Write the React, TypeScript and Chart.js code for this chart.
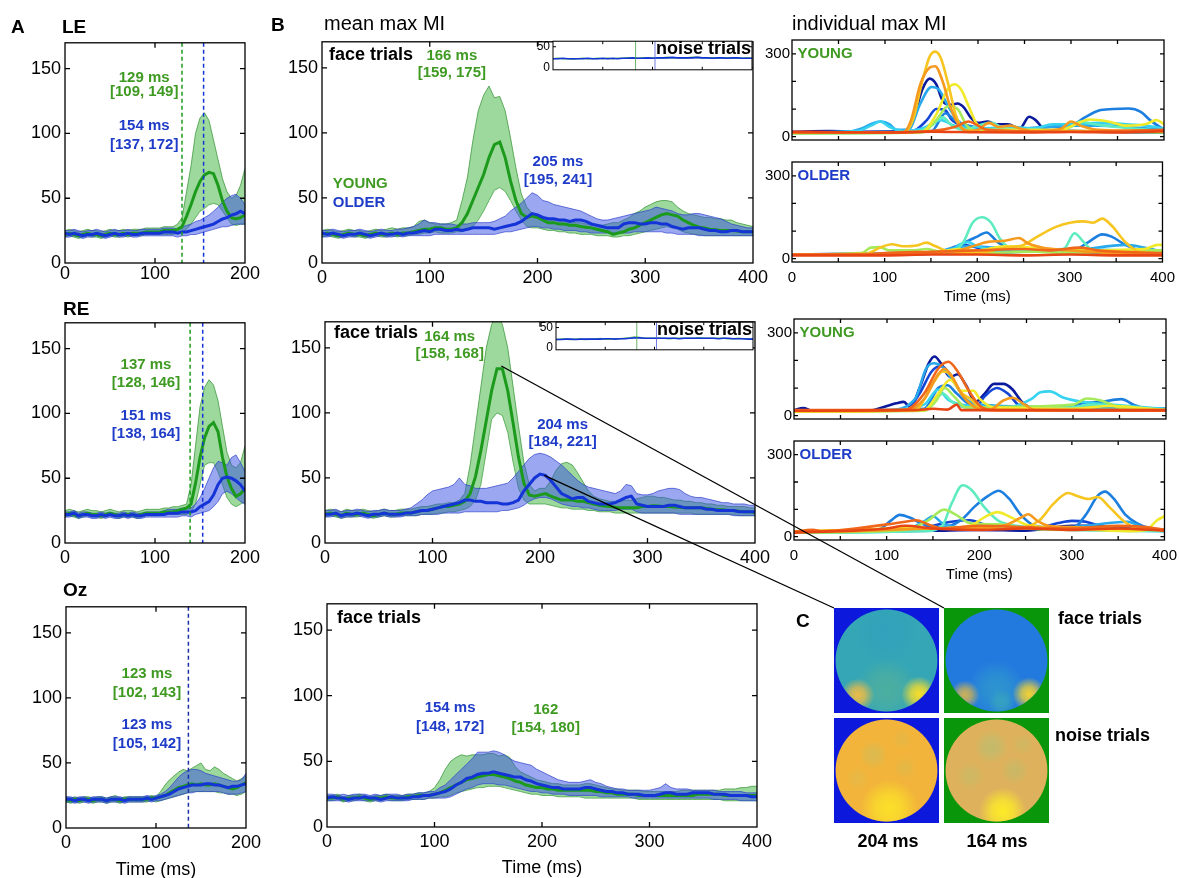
import React, { useEffect, useRef } from "react";
import { Chart, registerables } from "chart.js";

Chart.register(...registerables);

const FONT = "'Liberation Sans', Arial, Helvetica, sans-serif";
Chart.defaults.font.family = FONT;
Chart.defaults.color = "#000";

// ---------- time axes ----------
const T200 = Array.from({ length: 41 }, (_, i) => i * 5);
const T400 = Array.from({ length: 81 }, (_, i) => i * 5);
const T400N = Array.from({ length: 41 }, (_, i) => i * 10);

// ---------- Panel A: LE ----------
const LE_G_MEAN = [22,23,22,21,22,23,22,22,21,22,23,22,22,23,22,23, 23,23,24,24,24,24,25,25,25, 26,28,36,45,55,63,68,70,69,60,48,40,35,34,35,37];
const LE_G_UP = [25,26,25,24,25,26,25,25,24,25,26,25,25,26,25,26, 26,26,27,27,27,27,28,28,28, 30,35,55,75,100,112,116,110,95,80,65,55,50,52,60,73];
const LE_G_LO = [20,21,20,19,20,21,20,20,19,20,21,20,20,21,20,21, 21,21,22,22,22,22,22,22,22, 23,24,26,30,35,40,42,45,46,45,40,35,30,29,30,30];
const LE_B_MEAN = [23,22,23,22,21,22,22,23,22,21,22,23,22,22,23,22, 22,23,23,23,23,23,24,24,24, 23,24,24,25,26,27,28,29,30,32,34,35,37,38,40,38];
const LE_B_UP = [25,25,26,25,24,25,25,26,25,24,25,26,25,25,26,25, 25,26,26,26,26,26,27,27,27, 26,28,29,30,32,33,35,37,40,43,47,50,52,53,50,45];
const LE_B_LO = [20,20,21,20,19,20,20,21,20,19,20,21,20,20,21,20, 20,21,21,21,21,21,21,21,21, 20,21,21,22,22,23,24,25,26,27,28,28,29,30,30,30];

// ---------- Panel A: RE ----------
const RE_G_MEAN = [22,23,22,21,22,23,22,22,21,22,23,22,21,22,22,22, 21,22,23,23,23,23,24,24,24, 25,26,27,30,46,66,81,90,93,86,66,51,42,36,38,42];
const RE_G_UP = [25,26,25,24,25,26,25,25,24,25,26,25,24,25,25,25, 24,25,26,26,26,26,27,27,28, 28,29,30,45,75,105,120,126,122,110,90,70,60,58,62,75];
const RE_G_LO = [20,21,20,19,20,21,20,20,19,20,21,20,19,20,20,20, 19,20,21,21,21,21,22,22,22, 22,22,22,24,30,45,60,62,62,55,45,35,30,28,30,32];
const RE_B_MEAN = [22,22,23,21,22,22,21,21,22,21,22,21,21,22,21,22, 21,21,22,22,22,22,22,23,23, 23,24,24,24,25,28,30,32,37,45,50,51,50,48,45,40];
const RE_B_UP = [24,24,25,23,24,24,23,23,24,23,24,23,23,24,23,24, 23,23,24,24,24,24,25,26,26, 26,27,27,27,30,35,42,50,58,63,62,60,66,68,62,55];
const RE_B_LO = [20,20,21,19,20,20,19,19,20,19,20,19,19,20,19,20, 19,19,20,20,20,20,20,20,20, 20,21,21,20,22,23,24,25,28,32,38,40,38,35,32,30];

// ---------- Panel A: Oz ----------
const OZ_G_MEAN = [22,21,22,21,22,22,21,22,22,21,22,22,21,22,22,22, 22,22,22,23,23,24,25,27,29, 31,32,33,34,33,34,33,33,34,33,32,31,30,31,33,35];
const OZ_G_UP = [24,23,24,23,24,24,23,24,24,23,24,25,23,24,24,24, 24,24,24,25,24,28,33,37,40, 43,45,44,46,48,50,45,44,47,45,42,40,38,36,38,40];
const OZ_G_LO = [20,19,20,19,20,20,19,20,20,19,20,20,19,20,20,20, 20,20,20,21,20,21,22,23,24, 25,26,27,28,28,28,28,28,28,27,27,26,26,25,26,28];
const OZ_B_MEAN = [22,22,21,22,22,21,22,22,22,21,22,22,22,21,22,22, 22,22,23,22,23,24,25,26,28, 30,31,32,33,33,33,34,34,33,33,32,31,32,32,33,34];
const OZ_B_UP = [24,24,23,24,24,23,24,24,24,23,24,24,24,23,24,24, 24,24,25,24,25,26,28,31,35, 39,42,44,45,45,44,42,41,40,39,38,37,36,36,37,42];
const OZ_B_LO = [20,20,19,20,20,19,20,20,20,19,20,20,20,19,20,20, 20,20,21,20,21,21,22,23,24, 25,26,27,27,28,28,28,28,28,28,27,26,26,26,27,28];

// ---------- Panel B: top (LE) ----------
const B1_G_MEAN = [22,23,22,21,22,23,22,22,21,22,23,22,22,23,22,23, 23,24,25,26,26,27,27,26,26,27, 31,38,48,58,68,81,91,93,81,63,48,38,35,36,35, 33,31,31,30,30,29,29,28,27.5,27,26,25,24,22,23, 24,26,27,29,31,33,35,37,38,37,36,33,31,29,27.5, 27,26,25.5,25,25,25,24.5,24,24,24];
const B1_G_UP = [25,26,25,24,25,26,25,25,24,25,26,25,26,27,26,27, 27,28,32,33,31,30,30,30,31,33, 48,66,94,117,129,136,127,128,117,96,73,53,43,38,36, 35,33,33,33,33,32,31,31,30,30,29,29,30,31,31, 33,35,38,40,43,45,47,48,48,47,43,40,38,37,36, 35,35,34,34,33,33,31,30,29,28];
const B1_G_LO = [20,21,20,19,20,21,20,20,19,20,21,20,20,21,20,21, 21,22,22,23,23,24,23,23,23,24, 24,26,28,33,40,48,56,58,55,48,40,33,28,27,27, 26,25,25,24,24,23,23,22,22,22,21,21,21,20,20, 21,21,22,23,24,25,26,27,28,27,26,24,23,22,22, 21,21,21,21,21,21,21,21,21,21];
const B1_B_MEAN = [23,22,23,22,21,22,22,23,22,21,22,23,22,22,23,22, 23,23,24,25,24,26,26,25,25,26, 25,26,27,27,27,27,26,27,28,29,30,32,35,38,37, 35,34,34,33,33,32,33,33,32,30,29,28,27,27,27, 30,31,31,30,30,31,31,30,30,28,27,26,27,27,27, 26,25,25,24,24,25,25,24,24,24];
const B1_B_UP = [25,25,26,25,24,25,25,26,25,24,25,26,25,25,26,26, 27,28,30,33,31,31,30,30,30,29, 30,30,31,31,31,31,32,34,36,40,43,46,50,54,52, 48,47,45,44,43,42,41,40,38,36,34,33,33,34,35, 36,37,38,39,40,41,43,42,41,40,38,37,37,38,38, 37,36,35,34,32,30,29,28,27,27];
const B1_B_LO = [20,20,21,20,19,20,20,21,20,19,20,21,20,20,21,20, 21,21,21,21,21,22,22,22,22,22, 22,22,22,22,22,22,22,23,24,24,25,26,27,28,28, 27,27,26,26,25,25,25,24,24,23,23,23,23,23,23, 23,23,24,24,24,24,24,24,23,23,22,22,22,22,21, 21,21,21,21,21,21,21,21,21,21];

// ---------- Panel B: middle (RE) ----------
const B2_G_MEAN = [22,23,22,21,23,22,22,23,22,21,22,23,22,22,23,23, 23,24,25,25,26,27,28,28,29,30, 32,38,51,71,94,117,134,134,117,92,66,46,37,36,37, 38,36,34.5,33,33,33,32,32,31,30,29,28.5,28,27.5,27, 27,27,27,28,28,28.6,28.5,28,28,27.6,27.5,27,27,27,27, 26.5,26,25.5,25.5,25,25,24.5,24,24,23.5];
const B2_G_UP = [25,26,25,24,26,25,25,26,25,24,25,26,25,25,26,26, 26,27,28,28,29,30,30,31,31,33, 38,60,90,120,150,168,176,168,150,120,90,62,45,40,42, 42,48,56,61,62,60,54,47,40,36,34,33,32,32,32, 33,33,34,35,36,36,35,35,34,33,33,32,32,31,31, 30,30,29,29,28,28,28,28,27,27];
const B2_G_LO = [20,21,20,19,20,20,20,21,20,19,20,21,20,20,21,21, 21,21,22,22,22,23,23,24,24,25, 26,28,33,45,70,95,100,98,85,62,42,33,30,30,30, 30,29,28,27,27,26,26,26,25,25,24,24,24,23,23, 23,23,23,23,23,23,23,23,23,23,23,23,23,22,22, 22,22,22,22,22,22,21,21,21,21];
const B2_B_MEAN = [22,22,23,21,22,22,23,22,21,22,22,23,22,22,22,23, 23,24,25,25,26,27,28,29,30,31, 33,33,32,32,31,31,31,30,30,31,33,40,45,50,53, 52,48,43,38,36,34,35,35,32,31,30,30,30,31,33, 35,36,30,29,28,28,28,28,29,29,28,27,27,27,27, 26,26,25,25,25,25,24,24,24,24];
const B2_B_UP = [25,25,26,24,25,25,26,25,24,25,25,26,25,25,25,26, 27,30,33,37,40,41,42,43,45,50, 45,44,42,42,42,43,44,45,46,50,55,60,65,68,69, 68,66,63,60,56,52,48,45,43,42,41,40,39,38,40, 45,44,38,37,37,38,40,41,42,42,41,38,36,35,35, 34,33,32,31,31,30,30,30,29,29];
const B2_B_LO = [20,20,21,19,20,20,21,20,19,20,20,21,20,20,20,21, 21,21,22,22,22,22,23,23,23,23, 24,24,24,24,24,24,24,25,25,26,27,29,32,34,35, 35,34,32,30,29,28,28,27,27,26,25,25,25,25,26, 26,26,24,23,23,23,23,23,23,23,22,22,22,22,22, 22,22,22,22,22,21,21,21,21,21];

// ---------- Panel B: bottom (Oz) ----------
const B3_G_MEAN = [22,22,23,21,22,22,23,22,21,22,22,23,22,22,22,23, 23,24,24,24,25,26,28,30,32,34, 36,37,38,39,40,40,39,38,37,35,34,32,31,30,30, 29,29,28,28,28,28,28,28,28,27,27,26,26,25,25, 25,25,24,24,24,24,24,24,24,24,24,24,24,25,25, 25,25,25,24,24,24,24,24,24,24];
const B3_G_UP = [24,24,25,23,24,24,25,24,23,24,24,25,24,24,24,25, 25,26,26,27,30,36,44,50,53,55, 54,55,55,55,56,56,54,55,53,46,42,40,38,36,35, 34,33,33,32,32,32,32,33,33,32,31,30,29,29,28, 28,28,28,27,27,27,27,27,27,27,28,28,28,28,28, 28,28,28,29,29,29,30,30,31,31];
const B3_G_LO = [20,20,21,19,20,20,21,20,19,20,20,21,20,20,20,21, 21,21,21,22,22,23,23,24,26,27, 28,29,30,30,31,31,31,30,29,28,27,26,25,25,24, 24,24,23,23,23,23,23,22,22,22,22,22,22,22,22, 22,22,21,21,21,21,21,21,21,21,21,21,21,21,21, 21,21,21,20,20,20,20,20,20,20];
const B3_B_MEAN = [22,23,22,22,21,22,22,23,22,22,21,22,23,22,22,22, 23,23,24,24,25,26,27,29,32,34, 37,38,40,41,41,42,41,40,39,38,38,36,35,33,32, 31,30,30,29,29,29,29,30,30,29,28,27,27,26,26, 25,25,25,24,24,24,25,26,26,25,25,25,26,26,26, 26,25,25,25,24,24,24,24,23,23];
const B3_B_UP = [25,25,24,25,24,25,25,25,24,25,24,25,25,25,24,25, 25,26,26,27,27,30,32,36,40,44, 48,52,57,57,57,58,57,55,52,50,49,48,47,44,42, 40,38,36,35,34,34,34,35,36,34,33,31,30,29,29, 28,28,28,28,28,29,30,33,30,29,29,29,28,28,28, 28,28,27,27,27,27,27,26,26,26];
const B3_B_LO = [20,20,20,20,19,20,20,20,20,20,19,20,20,20,20,20, 21,21,21,22,22,22,22,23,25,27, 29,30,32,33,33,33,32,32,31,30,29,28,27,27,26, 26,25,25,25,24,24,24,24,24,24,23,23,23,23,23, 23,22,22,22,22,22,22,22,22,22,22,22,22,22,22, 22,21,21,21,21,21,20,20,20,20];

// ---------- noise-trial insets (10 ms steps) ----------
const N1_G = [22,23,22,22,21,22,23,22,22,23,22,23,22,23,23,24,24,23,24,24,24,23,24,25,24,24,23,24,25,25,24,24,24,23,24,24,23,24,23,24,23];
const N1_B = [22,22,23,22,22,22,22,23,22,22,23,22,23,22,23,23,24,23,23,24,23,24,24,24,25,24,24,24,24,25,24,24,23,24,24,23,24,24,23,23,23];
const N2_G = [21,22,22,21,22,22,21,22,22,23,22,22,23,23,24,25,27,26,24,24,24,24,24,23,24,24,24,24,24,25,24,24,24,24,24,23,23,24,23,23,22];
const N2_B = [21,21,22,22,21,22,22,22,22,22,23,23,22,23,23,24,25,25,24,24,24,24,24,24,24,23,24,24,24,24,24,24,24,23,24,24,23,23,23,22,22];

// ---------- individual max MI (knots [ms, MI]), one line per subject ----------
const JET = ["#0b1a9c", "#1547d6", "#1c7fe0", "#27a9ec", "#36d2f0", "#5eebc0", "#a6ea5c", "#f1ea2a", "#f7c520", "#f59a1e", "#f0661a", "#e84414"];

const YOUNG_LE = [
  [[0,18],[40,20],[80,18],[120,20],[130,60],[140,170],[148,210],[155,190],[162,130],[170,115],[178,120],[185,105],[192,70],[200,50],[210,55],[220,45],[232,45],[245,30],[255,72],[262,60],[272,25],[300,20],[350,18],[400,15]],
  [[0,15],[100,15],[130,20],[145,60],[155,100],[165,95],[172,60],[185,40],[200,30],[230,25],[300,20],[400,15]],
  [[0,15],[150,20],[165,85],[175,60],[190,40],[210,30],[250,30],[280,35],[300,40],[315,70],[330,95],[345,100],[362,102],[375,90],[385,60],[400,25]],
  [[0,15],[60,18],[75,30],[88,50],[96,55],[105,45],[112,25],[125,25],[138,120],[150,180],[158,170],[168,110],[178,60],[190,35],[210,30],[250,30],[300,40],[330,40],[360,35],[400,25]],
  [[0,15],[70,20],[85,40],[95,55],[105,35],[120,20],[140,30],[160,60],[175,40],[200,30],[240,35],[260,30],[280,45],[300,45],[330,50],[360,45],[380,40],[400,30]],
  [[0,12],[130,15],[150,40],[162,70],[172,40],[185,25],[205,45],[215,50],[225,35],[260,20],[300,35],[310,55],[325,45],[350,35],[400,20]],
  [[0,12],[140,15],[155,60],[168,110],[178,100],[188,40],[200,20],[300,20],[400,15]],
  [[0,14],[140,18],[155,80],[168,175],[175,190],[182,170],[190,110],[198,50],[210,25],[290,25],[305,45],[320,62],[340,55],[360,40],[380,45],[392,60],[400,45]],
  [[0,15],[120,16],[130,60],[140,200],[148,290],[154,308],[160,285],[168,190],[176,80],[185,25],[200,18],[300,20],[400,20]],
  [[0,15],[120,17],[128,60],[138,190],[148,250],[154,255],[162,200],[170,110],[180,40],[190,20],[200,25],[212,50],[222,35],[235,40],[245,30],[260,20],[290,30],[300,55],[310,40],[330,25],[400,20]],
  [[0,15],[100,15],[150,20],[175,35],[190,55],[200,40],[210,25],[300,18],[350,20],[400,25]],
  [[0,18],[50,16],[100,15],[150,18],[200,16],[250,15],[300,17],[350,15],[400,20]],
];
const OLDER_LE = [
  [[0,15],[100,15],[150,18],[200,20],[250,25],[270,30],[300,25],[350,20],[400,15]],
  [[0,15],[120,20],[160,25],[185,50],[200,40],[250,30],[300,25],[400,20]],
  [[0,15],[170,20],[185,55],[200,80],[210,95],[222,60],[240,30],[300,25],[320,60],[335,88],[345,80],[360,50],[380,25],[400,20]],
  [[0,15],[150,20],[175,40],[195,45],[220,40],[300,30],[360,50],[380,40],[400,25]],
  [[0,15],[120,18],[170,25],[180,50],[190,60],[200,45],[220,30],[300,35],[400,25]],
  [[0,15],[170,20],[185,60],[195,130],[205,150],[215,130],[225,70],[240,30],[280,25],[295,40],[305,92],[315,60],[325,30],[360,30],[400,25]],
  [[0,15],[75,20],[85,40],[95,42],[105,30],[130,30],[145,35],[160,25],[200,20],[260,25],[300,20],[380,30],[400,30]],
  [[0,15],[150,20],[180,35],[200,30],[230,45],[260,40],[300,30],[380,35],[395,50],[400,50]],
  [[0,15],[80,18],[95,40],[108,52],[120,45],[135,48],[145,58],[155,45],[170,25],[200,20],[230,40],[250,50],[265,80],[285,115],[300,130],[315,135],[325,130],[335,145],[345,120],[360,60],[375,25],[400,20]],
  [[0,15],[100,18],[150,20],[180,30],[200,50],[210,60],[230,65],[245,75],[255,55],[270,40],[300,30],[350,20],[400,15]],
  [[0,15],[80,15],[100,20],[150,25],[200,30],[250,35],[280,30],[310,40],[330,30],[400,20]],
  [[0,12],[100,12],[150,15],[200,15],[250,12],[300,15],[350,12],[400,12]],
];
const YOUNG_RE = [
  [[0,20],[10,28],[20,18],[80,18],[100,35],[110,45],[118,50],[125,30],[135,100],[145,190],[151,214],[158,190],[168,140],[176,150],[185,110],[195,50],[205,80],[215,115],[225,115],[235,95],[245,50],[260,25],[300,20],[400,25]],
  [[0,18],[120,20],[135,80],[148,160],[158,180],[168,150],[180,80],[195,30],[205,70],[218,100],[230,80],[245,30],[300,20],[400,18]],
  [[0,15],[140,25],[155,100],[165,110],[175,80],[190,40],[250,30],[290,30],[310,45],[330,50],[345,58],[352,60],[365,40],[380,25],[400,25]],
  [[0,15],[100,20],[130,60],[142,170],[150,190],[160,175],[172,120],[185,60],[200,40],[300,30],[400,20]],
  [[0,15],[100,20],[140,40],[155,95],[165,60],[180,40],[230,30],[255,60],[265,85],[275,88],[290,65],[310,50],[340,40],[400,25]],
  [[0,15],[140,20],[150,50],[160,80],[170,50],[185,30],[240,25],[300,30],[320,40],[400,20]],
  [[0,15],[140,18],[152,50],[162,100],[172,70],[185,30],[300,40],[315,62],[330,55],[350,30],[400,20]],
  [[0,15],[140,20],[155,80],[168,130],[180,90],[193,90],[200,60],[215,30],[300,25],[340,35],[400,20]],
  [[0,15],[130,20],[150,120],[160,160],[168,150],[178,90],[190,60],[200,30],[220,20],[400,20]],
  [[0,18],[120,20],[140,60],[155,150],[162,170],[170,140],[182,70],[195,30],[210,20],[225,55],[235,65],[248,40],[260,20],[400,20]],
  [[0,20],[120,22],[140,80],[155,170],[166,195],[176,160],[188,90],[200,35],[215,20],[400,18]],
  [[0,18],[130,20],[150,25],[165,22],[175,40],[180,20],[300,20],[400,20]],
];
const OLDER_RE = [
  [[0,18],[100,20],[150,22],[200,25],[250,22],[300,40],[320,40],[340,30],[400,25]],
  [[0,20],[120,22],[170,55],[190,60],[210,40],[260,30],[285,50],[300,58],[315,55],[330,40],[400,25]],
  [[0,18],[90,25],[105,60],[114,80],[125,70],[140,45],[160,35],[180,60],[195,110],[210,150],[221,168],[232,140],[245,80],[260,40],[300,30],[315,80],[328,150],[336,165],[345,140],[358,80],[370,50],[385,30],[400,25]],
  [[0,15],[120,25],[140,55],[150,75],[160,50],[175,35],[200,30],[300,35],[360,55],[380,30],[400,20]],
  [[0,15],[120,20],[150,30],[200,35],[250,30],[300,25],[400,20]],
  [[0,15],[140,20],[160,40],[170,120],[182,188],[192,170],[205,110],[220,60],[240,40],[300,30],[400,20]],
  [[0,15],[120,25],[145,60],[162,99],[175,80],[190,50],[220,45],[250,30],[300,25],[400,25]],
  [[0,18],[100,30],[120,35],[150,30],[190,40],[205,70],[220,90],[232,75],[250,45],[300,30],[360,20],[380,25],[392,60],[400,75]],
  [[0,20],[100,28],[150,30],[200,30],[240,30],[265,60],[280,120],[296,160],[305,150],[318,138],[328,145],[340,110],[355,60],[370,30],[400,25]],
  [[0,18],[60,20],[100,25],[150,30],[200,35],[230,45],[245,70],[253,82],[262,60],[275,40],[300,35],[340,30],[400,25]],
  [[0,18],[20,25],[30,20],[100,45],[120,55],[132,60],[145,45],[160,30],[200,40],[250,35],[300,30],[350,40],[380,35],[400,25]],
  [[0,15],[100,30],[120,40],[150,30],[200,25],[250,30],[300,25],[350,30],[400,22]],
];

// ---------- peak latencies (ms) ----------
const LE_VLINES = [130, 154];
const RE_VLINES = [139, 153];
const OZ_VLINES = [136];
const B1_PEAKS = [166, 205];
const B2_PEAKS = [164, 204];
const LINK_G = [164, 136];
const LINK_B = [204, 52];

// ---------- topographies (C): blobs [x, y, radius, r, g, b, alpha] ----------
const TOPO_204_FACE = { bg: "#0c18dc", base: "rgb(52,166,182)", blobs: [[0,0.55,0.6,45,158,192,0.5],[0,-0.55,0.6,88,178,150,0.7],[-0.55,-0.66,0.32,238,188,70,1],[0.62,-0.64,0.34,250,222,40,1]] };
const TOPO_164_FACE = { bg: "#0a960a", base: "rgb(35,122,222)", blobs: [[0,-0.55,0.55,50,160,200,0.7],[0.1,-0.8,0.25,60,175,180,0.6],[-0.6,-0.66,0.28,215,180,80,0.95],[0.62,-0.64,0.32,245,210,50,1]] };
const TOPO_204_NOISE = { bg: "#0c18dc", base: "rgb(242,180,58)", blobs: [[0.05,-0.72,0.55,252,228,40,0.9],[-0.25,0.3,0.28,215,188,85,0.8],[0.35,0.05,0.22,222,185,75,0.7],[-0.55,-0.15,0.22,225,188,78,0.6],[0.3,0.6,0.2,225,185,75,0.6]] };
const TOPO_164_NOISE = { bg: "#0a960a", base: "rgb(222,178,92)", blobs: [[0.12,-0.78,0.45,252,235,40,1],[-0.1,0.45,0.32,188,188,110,0.8],[0.35,0,0.26,192,186,105,0.7],[-0.5,-0.1,0.26,198,186,100,0.7],[0.5,0.5,0.2,200,185,100,0.6]] };

// ---------- styles ----------
const G_LINE = "#1c9a1c";
const B_LINE = "#1434d8";
const G_FILL = "rgba(60,180,60,0.5)";
const B_FILL = "rgba(55,80,225,0.5)";
const G_EDGE = "rgba(40,140,40,0.85)";
const B_EDGE = "rgba(40,60,200,0.85)";
const G_TXT = "#3f9a22";
const B_TXT = "#1e3cc8";

type Box = { l: number; t: number; r: number; b: number; ml: number; mt: number; mr: number; mb: number };
const rect = (bx: Box) => ({ left: bx.l - bx.ml, top: bx.t - bx.mt, width: bx.r - bx.l + bx.ml + bx.mr, height: bx.b - bx.t + bx.mt + bx.mb });

// ---------- plugins ----------
function boxP(tick: number, lw: number) {
  return {
    id: "mbox",
    afterDatasetsDraw(chart: any) {
      const { ctx, chartArea: a, scales } = chart;
      ctx.save();
      ctx.strokeStyle = "#000";
      ctx.lineWidth = lw;
      ctx.beginPath();
      for (const t of scales.x.ticks) {
        const p = scales.x.getPixelForValue(t.value);
        if (p < a.left + 2 || p > a.right - 2) continue;
        ctx.moveTo(p, a.bottom); ctx.lineTo(p, a.bottom - tick);
        ctx.moveTo(p, a.top); ctx.lineTo(p, a.top + tick);
      }
      for (const t of scales.y.ticks) {
        const p = scales.y.getPixelForValue(t.value);
        if (p < a.top + 2 || p > a.bottom - 2) continue;
        ctx.moveTo(a.left, p); ctx.lineTo(a.left + tick, p);
        ctx.moveTo(a.right, p); ctx.lineTo(a.right - tick, p);
      }
      ctx.stroke();
      ctx.strokeRect(a.left, a.top, a.right - a.left, a.bottom - a.top);
      ctx.restore();
    },
  };
}
function annP(items: any[]) {
  return {
    id: "ann",
    afterDraw(chart: any) {
      const { ctx, scales } = chart;
      for (const it of items) {
        ctx.save();
        ctx.font = `bold ${it.size}px ${FONT}`;
        ctx.fillStyle = it.color;
        ctx.textAlign = it.align || "center";
        ctx.textBaseline = "middle";
        ctx.fillText(it.text, scales.x.getPixelForValue(it.x), scales.y.getPixelForValue(it.y));
        ctx.restore();
      }
    },
  };
}
function vlP(lines: { x: number; color: string; dash: number[]; w: number }[]) {
  return {
    id: "vl",
    afterDatasetsDraw(chart: any) {
      const { ctx, chartArea: a, scales } = chart;
      for (const l of lines) {
        const p = scales.x.getPixelForValue(l.x);
        ctx.save();
        ctx.strokeStyle = l.color; ctx.lineWidth = l.w; ctx.setLineDash(l.dash);
        ctx.beginPath(); ctx.moveTo(p, a.top); ctx.lineTo(p, a.bottom); ctx.stroke();
        ctx.restore();
      }
    },
  };
}
const whiteP = {
  id: "white",
  beforeDatasetsDraw(chart: any) {
    const { ctx, chartArea: a } = chart;
    ctx.save(); ctx.fillStyle = "#fff"; ctx.fillRect(a.left, a.top, a.right - a.left, a.bottom - a.top); ctx.restore();
  },
};
function topoP(spec: any) {
  return {
    id: "topo",
    beforeDatasetsDraw(chart: any) {
      const { ctx, chartArea: a, scales: { x, y } } = chart;
      ctx.save();
      ctx.fillStyle = spec.bg;
      ctx.fillRect(a.left, a.top, a.right - a.left, a.bottom - a.top);
      const cx = x.getPixelForValue(0), cy = y.getPixelForValue(0);
      const R = x.getPixelForValue(0.97) - cx;
      ctx.beginPath(); ctx.arc(cx, cy, R, 0, Math.PI * 2); ctx.clip();
      ctx.fillStyle = spec.base; ctx.fillRect(a.left, a.top, a.right - a.left, a.bottom - a.top);
      for (const b of spec.blobs) {
        const px = x.getPixelForValue(b[0]), py = y.getPixelForValue(b[1]);
        const r = x.getPixelForValue(b[2]) - cx;
        const g = ctx.createRadialGradient(px, py, 0, px, py, r);
        g.addColorStop(0, `rgba(${b[3]},${b[4]},${b[5]},${b[6]})`);
        g.addColorStop(0.45, `rgba(${b[3]},${b[4]},${b[5]},${b[6] * 0.75})`);
        g.addColorStop(1, `rgba(${b[3]},${b[4]},${b[5]},0)`);
        ctx.fillStyle = g; ctx.fillRect(a.left, a.top, a.right - a.left, a.bottom - a.top);
      }
      ctx.restore();
    },
  };
}

// ---------- dataset builders ----------
const pts = (t: number[], v: number[]) => v.map((y, i) => ({ x: t[i], y }));
function bandSets(t: number[], gm: number[], gu: number[], gl: number[], bm: number[], bu: number[], bl: number[]) {
  return [
    { data: pts(t, bm), borderColor: B_LINE, borderWidth: 3, fill: false, order: 0 },
    { data: pts(t, gm), borderColor: G_LINE, borderWidth: 3, fill: false, order: 1 },
    { data: pts(t, bu), borderColor: B_EDGE, borderWidth: 0.8, backgroundColor: B_FILL, fill: "+1", order: 2 },
    { data: pts(t, bl), borderColor: B_EDGE, borderWidth: 0.8, fill: false, order: 3 },
    { data: pts(t, gu), borderColor: G_EDGE, borderWidth: 0.8, backgroundColor: G_FILL, fill: "+1", order: 4 },
    { data: pts(t, gl), borderColor: G_EDGE, borderWidth: 0.8, fill: false, order: 5 },
  ];
}
function indivSets(lines: number[][][]) {
  return lines.map((k, i) => ({
    data: k.map(([x, y]) => ({ x, y })),
    borderColor: JET[i], borderWidth: 2.6, fill: false, order: lines.length - i,
    tension: 0.4, cubicInterpolationMode: "monotone",
  }));
}

function mkLine(bx: Box, datasets: any[], o: any) {
  const xt: any = { stepSize: o.xstep, display: o.xLabels, font: { size: o.fs }, padding: o.xPad, maxRotation: 0, autoSkip: false, includeBounds: false };
  if (o.xCb) xt.callback = o.xCb;
  const yt: any = { stepSize: o.ystep, font: { size: o.yfs || o.fs }, padding: o.yPad, autoSkip: false, includeBounds: false };
  if (o.yCb) yt.callback = o.yCb;
  return {
    type: "line",
    data: { datasets },
    options: {
      animation: false, responsive: false, maintainAspectRatio: false, devicePixelRatio: 1,
      layout: { padding: { left: 0, top: bx.mt, right: bx.mr, bottom: 0 } },
      plugins: { legend: { display: false }, tooltip: { enabled: false } },
      elements: { point: { radius: 0 }, line: { tension: 0 } },
      scales: {
        x: {
          type: "linear", min: 0, max: o.xmax,
          grid: { display: false, drawTicks: false }, border: { display: false }, ticks: xt,
          title: o.title ? { display: true, text: "Time (ms)", font: { size: o.title }, padding: { top: 0, bottom: 4 } } : { display: false },
          afterFit: (s: any) => { s.height = bx.mb; },
        },
        y: {
          type: "linear", min: o.ymin, max: o.ymax,
          grid: { display: false, drawTicks: false }, border: { display: false }, ticks: yt,
          afterFit: (s: any) => { s.width = bx.ml; },
        },
      },
    },
    plugins: o.plugins,
  };
}
function mkTopo(spec: any) {
  return {
    type: "scatter",
    data: { datasets: [] },
    options: {
      animation: false, responsive: false, maintainAspectRatio: false, devicePixelRatio: 1,
      layout: { padding: 0 },
      plugins: { legend: { display: false }, tooltip: { enabled: false } },
      scales: { x: { min: -1, max: 1, display: false }, y: { min: -1, max: 1, display: false } },
    },
    plugins: [topoP(spec)],
  };
}

const txt = (x: number, y: number, text: string, color: string, size = 15, align = "center") => ({ x, y, text, color, size, align });
const dashed = (x: number, color: string) => ({ x, color, dash: [4, 3], w: 1.5 });
const thin = (x: number, color: string) => ({ x, color, dash: [], w: 1 });

const A_OPTS = { xmax: 200, xstep: 100, ymin: 0, ymax: 170, ystep: 50, fs: 18, xLabels: true, yPad: 4 };
const B_OPTS = { xmax: 400, xstep: 100, ymin: 0, ymax: 170, ystep: 50, fs: 18, xLabels: true, yPad: 4, xPad: 4 };
const R_OPTS = { xmax: 400, xstep: 50, ymin: -12, ymax: 350, ystep: 100, fs: 15, yPad: 2, xPad: 7,
  xCb: (v: number) => (v % 100 === 0 ? String(v) : ""), yCb: (v: number) => (v === 0 || v === 300 ? String(v) : "") };
const I_OPTS = { xmax: 400, xstep: 100, ymin: -4, ymax: 63, ystep: 50, fs: 12, xLabels: false, yPad: 3, xPad: 0 };

const BOX = {
  le: { l: 65, t: 42, r: 245, b: 263, ml: 50, mt: 14, mr: 22, mb: 30 },
  re: { l: 65, t: 322, r: 245, b: 543, ml: 50, mt: 14, mr: 22, mb: 30 },
  oz: { l: 66, t: 606, r: 246, b: 828, ml: 50, mt: 14, mr: 22, mb: 57 },
  b1: { l: 322, t: 41, r: 753, b: 263, ml: 50, mt: 14, mr: 22, mb: 30 },
  b2: { l: 325, t: 321, r: 755, b: 543, ml: 50, mt: 14, mr: 22, mb: 30 },
  b3: { l: 327, t: 603, r: 757, b: 827, ml: 50, mt: 14, mr: 22, mb: 56 },
  n1: { l: 553, t: 41, r: 752, b: 72, ml: 22, mt: 10, mr: 4, mb: 8 },
  n2: { l: 556, t: 322, r: 753, b: 352, ml: 22, mt: 10, mr: 4, mb: 8 },
  yt: { l: 792, t: 40, r: 1164, b: 140, ml: 34, mt: 14, mr: 18, mb: 12 },
  ot: { l: 792, t: 162, r: 1164, b: 262, ml: 34, mt: 14, mr: 18, mb: 48 },
  yb: { l: 794, t: 319, r: 1166, b: 419, ml: 34, mt: 14, mr: 18, mb: 12 },
  ob: { l: 794, t: 441, r: 1166, b: 540, ml: 34, mt: 14, mr: 18, mb: 48 },
  c1: { l: 834, t: 608, r: 939, b: 713, ml: 0, mt: 0, mr: 0, mb: 0 },
  c2: { l: 944, t: 608, r: 1049, b: 713, ml: 0, mt: 0, mr: 0, mb: 0 },
  c3: { l: 834, t: 718, r: 939, b: 823, ml: 0, mt: 0, mr: 0, mb: 0 },
  c4: { l: 944, t: 718, r: 1049, b: 823, ml: 0, mt: 0, mr: 0, mb: 0 },
};

const SPECS: { key: string; box: Box; cfg: () => any }[] = [
  { key: "le", box: BOX.le, cfg: () => mkLine(BOX.le, bandSets(T200, LE_G_MEAN, LE_G_UP, LE_G_LO, LE_B_MEAN, LE_B_UP, LE_B_LO), { ...A_OPTS, xPad: 0,
    plugins: [vlP([dashed(LE_VLINES[0], G_LINE), dashed(LE_VLINES[1], B_LINE)]), boxP(5, 1.3),
      annP([txt(88, 143, "129 ms", G_TXT), txt(88, 132, "[109, 149]", G_TXT), txt(88, 106, "154 ms", B_TXT), txt(88, 91.5, "[137, 172]", B_TXT)])] }) },
  { key: "re", box: BOX.re, cfg: () => mkLine(BOX.re, bandSets(T200, RE_G_MEAN, RE_G_UP, RE_G_LO, RE_B_MEAN, RE_B_UP, RE_B_LO), { ...A_OPTS, xPad: 4,
    plugins: [vlP([dashed(RE_VLINES[0], G_LINE), dashed(RE_VLINES[1], B_LINE)]), boxP(5, 1.3),
      annP([txt(90, 137.5, "137 ms", G_TXT), txt(90, 123.5, "[128, 146]", G_TXT), txt(90, 98, "151 ms", B_TXT), txt(90, 84, "[138, 164]", B_TXT)])] }) },
  { key: "oz", box: BOX.oz, cfg: () => mkLine(BOX.oz, bandSets(T200, OZ_G_MEAN, OZ_G_UP, OZ_G_LO, OZ_B_MEAN, OZ_B_UP, OZ_B_LO), { ...A_OPTS, xPad: 4, title: 18,
    plugins: [vlP([dashed(OZ_VLINES[0], "#1a2fa8")]), boxP(5, 1.3),
      annP([txt(90, 118.5, "123 ms", G_TXT), txt(90, 104, "[102, 143]", G_TXT), txt(90, 79.5, "123 ms", B_TXT), txt(90, 65, "[105, 142]", B_TXT)])] }) },
  { key: "b1", box: BOX.b1, cfg: () => mkLine(BOX.b1, bandSets(T400, B1_G_MEAN, B1_G_UP, B1_G_LO, B1_B_MEAN, B1_B_UP, B1_B_LO), { ...B_OPTS,
    plugins: [boxP(5, 1.3), annP([txt(6.5, 160, "face trials", "#000", 18, "left"), txt(120.5, 159.5, "166 ms", G_TXT), txt(120.5, 146, "[159, 175]", G_TXT),
      txt(219, 78, "205 ms", B_TXT), txt(219, 64, "[195, 241]", B_TXT), txt(10, 61, "YOUNG", G_TXT, 15, "left"), txt(10, 46.5, "OLDER", B_TXT, 15, "left")])] }) },
  { key: "b2", box: BOX.b2, cfg: () => mkLine(BOX.b2, bandSets(T400, B2_G_MEAN, B2_G_UP, B2_G_LO, B2_B_MEAN, B2_B_UP, B2_B_LO), { ...B_OPTS,
    plugins: [boxP(5, 1.3), annP([txt(8.4, 161, "face trials", "#000", 18, "left"), txt(116, 158.5, "164 ms", G_TXT), txt(116, 145.5, "[158, 168]", G_TXT),
      txt(221, 91, "204 ms", B_TXT), txt(221, 77.5, "[184, 221]", B_TXT)])] }) },
  { key: "b3", box: BOX.b3, cfg: () => mkLine(BOX.b3, bandSets(T400, B3_G_MEAN, B3_G_UP, B3_G_LO, B3_B_MEAN, B3_B_UP, B3_B_LO), { ...B_OPTS, title: 18,
    plugins: [boxP(5, 1.3), annP([txt(9.3, 159, "face trials", "#000", 18, "left"), txt(114.5, 90.5, "154 ms", B_TXT), txt(114.5, 76, "[148, 172]", B_TXT),
      txt(203.5, 89, "162", G_TXT), txt(203.5, 75.5, "[154, 180]", G_TXT)])] }) },
  { key: "n1", box: BOX.n1, cfg: () => mkLine(BOX.n1, [
      { data: pts(T400N, N1_B), borderColor: B_LINE, borderWidth: 1.6, fill: false, order: 0 },
      { data: pts(T400N, N1_G), borderColor: "rgba(60,170,60,0.8)", borderWidth: 1.6, fill: false, order: 1 }],
    { ...I_OPTS, plugins: [whiteP, vlP([thin(B1_PEAKS[0], "rgba(70,160,70,0.8)"), thin(B1_PEAKS[1], "rgba(80,90,220,0.8)")]), boxP(3, 1),
      annP([txt(398, 45, "noise trials", "#000", 18, "right")])] }) },
  { key: "n2", box: BOX.n2, cfg: () => mkLine(BOX.n2, [
      { data: pts(T400N, N2_B), borderColor: B_LINE, borderWidth: 1.6, fill: false, order: 0 },
      { data: pts(T400N, N2_G), borderColor: "rgba(60,170,60,0.8)", borderWidth: 1.6, fill: false, order: 1 }],
    { ...I_OPTS, plugins: [whiteP, vlP([thin(B2_PEAKS[0], "rgba(70,160,70,0.8)"), thin(B2_PEAKS[1], "rgba(80,90,220,0.8)")]), boxP(3, 1),
      annP([txt(398, 43, "noise trials", "#000", 18, "right")])] }) },
  { key: "yt", box: BOX.yt, cfg: () => mkLine(BOX.yt, indivSets(YOUNG_LE), { ...R_OPTS, xLabels: false,
    plugins: [boxP(4, 1.3), annP([txt(6, 300, "YOUNG", G_TXT, 15, "left")])] }) },
  { key: "ot", box: BOX.ot, cfg: () => mkLine(BOX.ot, indivSets(OLDER_LE), { ...R_OPTS, xLabels: true, title: 15,
    plugins: [boxP(4, 1.3), annP([txt(6, 300, "OLDER", B_TXT, 15, "left")])] }) },
  { key: "yb", box: BOX.yb, cfg: () => mkLine(BOX.yb, indivSets(YOUNG_RE), { ...R_OPTS, xLabels: false,
    plugins: [boxP(4, 1.3), annP([txt(6, 300, "YOUNG", G_TXT, 15, "left")])] }) },
  { key: "ob", box: BOX.ob, cfg: () => mkLine(BOX.ob, indivSets(OLDER_RE), { ...R_OPTS, xLabels: true, title: 15,
    plugins: [boxP(4, 1.3), annP([txt(6, 300, "OLDER", B_TXT, 15, "left")])] }) },
  { key: "c1", box: BOX.c1, cfg: () => mkTopo(TOPO_204_FACE) },
  { key: "c2", box: BOX.c2, cfg: () => mkTopo(TOPO_164_FACE) },
  { key: "c3", box: BOX.c3, cfg: () => mkTopo(TOPO_204_NOISE) },
  { key: "c4", box: BOX.c4, cfg: () => mkTopo(TOPO_164_NOISE) },
];

const LABELS = [
  { text: "A", x: 11, y: 26, size: 19, bold: true },
  { text: "LE", x: 62, y: 26, size: 19, bold: true },
  { text: "RE", x: 63, y: 308, size: 19, bold: true },
  { text: "Oz", x: 63, y: 589, size: 19, bold: true },
  { text: "B", x: 271, y: 24, size: 19, bold: true },
  { text: "mean max MI", x: 324, y: 23, size: 20, bold: false },
  { text: "individual max MI", x: 792, y: 23, size: 20, bold: false },
  { text: "C", x: 796, y: 620, size: 19, bold: true },
  { text: "face trials", x: 1058, y: 618, size: 18, bold: true },
  { text: "noise trials", x: 1055, y: 735, size: 18, bold: true },
  { text: "204 ms", x: 888, y: 841, size: 18, bold: true, center: true },
  { text: "164 ms", x: 997, y: 841, size: 18, bold: true, center: true },
];

export default function App() {
  const refs = useRef<(HTMLCanvasElement | null)[]>([]);
  const ovRef = useRef<HTMLCanvasElement | null>(null);

  useEffect(() => {
    const charts = SPECS.map((s, i) => new Chart(refs.current[i] as HTMLCanvasElement, s.cfg() as any));
    const byKey: Record<string, any> = {};
    SPECS.forEach((s, i) => { byKey[s.key] = { chart: charts[i], r: rect(s.box) }; });
    const ov = ovRef.current;
    if (ov) {
      const ctx = ov.getContext("2d");
      if (ctx) {
        ctx.clearRect(0, 0, ov.width, ov.height);
        const src = byKey.b2;
        const links: [number[], string][] = [[LINK_G, "c2"], [LINK_B, "c1"]];
        ctx.strokeStyle = "#000";
        ctx.lineWidth = 1.3;
        for (const [p, k] of links) {
          const x0 = src.r.left + src.chart.scales.x.getPixelForValue(p[0]);
          const y0 = src.r.top + src.chart.scales.y.getPixelForValue(p[1]);
          const dst = byKey[k];
          const x1 = dst.r.left + dst.chart.chartArea.left;
          const y1 = dst.r.top + dst.chart.chartArea.top;
          ctx.beginPath(); ctx.moveTo(x0, y0); ctx.lineTo(x1, y1); ctx.stroke();
        }
      }
    }
    return () => charts.forEach((c) => c.destroy());
  }, []);

  return (
    <div style={{ position: "fixed", left: 0, top: 0, width: 1179, height: 878, background: "#fff", overflow: "hidden", fontFamily: FONT, color: "#000" }}>
      {SPECS.map((s, i) => {
        const r = rect(s.box);
        return (
          <canvas key={s.key} ref={(el) => { refs.current[i] = el; }} width={r.width} height={r.height}
            style={{ position: "absolute", left: r.left, top: r.top, width: r.width, height: r.height }} />
        );
      })}
      <canvas ref={ovRef} width={1179} height={878} style={{ position: "absolute", left: 0, top: 0, width: 1179, height: 878, pointerEvents: "none" }} />
      {LABELS.map((l) => (
        <div key={l.text + l.x} style={{ position: "absolute", left: l.x, top: l.y, transform: l.center ? "translate(-50%,-50%)" : "translateY(-50%)",
          fontSize: l.size, fontWeight: l.bold ? "bold" : "normal", whiteSpace: "nowrap", lineHeight: 1 }}>{l.text}</div>
      ))}
    </div>
  );
}
